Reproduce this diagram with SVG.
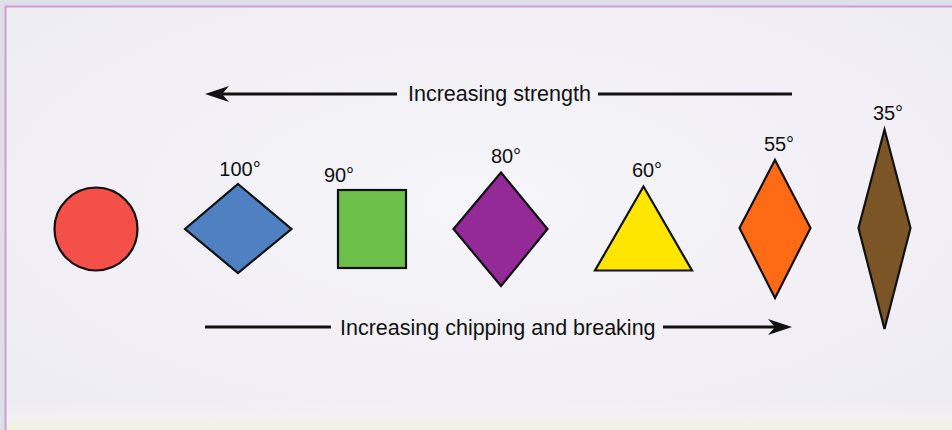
<svg xmlns="http://www.w3.org/2000/svg" width="952" height="430" viewBox="0 0 952 430">
  <style>
    .shape { stroke: #111; stroke-width: 2.2; stroke-linejoin: miter; }
    .lbl { font-family: "Liberation Sans", Arial, sans-serif; font-size: 20px; fill: #111; text-anchor: middle; }
    .cap { font-family: "Liberation Sans", Arial, sans-serif; font-size: 21.5px; fill: #111; }
    .line { stroke: #111; stroke-width: 3.2; fill: none; }
  </style>
  <defs>
    <radialGradient id="bg" cx="0.5" cy="0.45" r="0.7">
      <stop offset="0" stop-color="#f6f5f9"/>
      <stop offset="1" stop-color="#eeecf3"/>
    </radialGradient>
    <linearGradient id="bottom" x1="0" y1="0" x2="0" y2="1">
      <stop offset="0" stop-color="#f3f1f2" stop-opacity="0"/>
      <stop offset="0.6" stop-color="#f4f2ee" stop-opacity="0.6"/>
      <stop offset="1" stop-color="#eff0dc"/>
    </linearGradient>
  </defs>

  <g id="background">
    <rect x="0" y="0" width="952" height="430" fill="#dfdfe9"/>
    <rect x="5" y="6" width="952" height="430" fill="url(#bg)"/>
    <rect x="5" y="400" width="952" height="30" fill="url(#bottom)"/>
    <line x1="5" y1="6.5" x2="952" y2="6.5" stroke="#d49bd3" stroke-width="2"/>
    <line x1="5.5" y1="6" x2="5.5" y2="430" stroke="#d49bd3" stroke-width="2"/>
  </g>

  <g id="connectors">
    <g id="arrow-strength">
      <line class="line" x1="222" y1="94" x2="397" y2="94"/>
      <line class="line" x1="598" y1="94" x2="792" y2="94"/>
      <path d="M205,94 L229,86 L222,94 L229,102 Z" fill="#111"/>
      <text class="cap" x="408" y="100.7">Increasing strength</text>
    </g>
    <g id="arrow-chipping">
      <line class="line" x1="205" y1="327" x2="331" y2="327"/>
      <line class="line" x1="663" y1="327" x2="776" y2="327"/>
      <path d="M792,327 L768,319 L775,327 L768,335 Z" fill="#111"/>
      <text class="cap" x="340" y="334.5">Increasing chipping and breaking</text>
    </g>
  </g>

  <g id="circle">
    <circle class="shape" cx="96" cy="229" r="41.5" fill="#f44f49"/>
  </g>

  <g id="diamond-100">
    <polygon class="shape" points="238,184 291.5,229 238,273 185,229" fill="#4f80c2"/>
    <text class="lbl" x="240" y="176">100°</text>
  </g>

  <g id="square-90">
    <rect class="shape" x="338" y="190" width="68" height="78" fill="#6dc14b"/>
    <text class="lbl" x="339" y="182">90°</text>
  </g>

  <g id="diamond-80">
    <polygon class="shape" points="501,172.5 547.5,229 501,286 453.5,229" fill="#932a98"/>
    <text class="lbl" x="506" y="163">80°</text>
  </g>

  <g id="triangle-60">
    <polygon class="shape" points="643.5,186.5 692,270.5 595,270.5" fill="#ffe600"/>
    <text class="lbl" x="647" y="177">60°</text>
  </g>

  <g id="diamond-55">
    <polygon class="shape" points="775,160 810.5,228 775,298 739.5,228" fill="#ff6b14"/>
    <text class="lbl" x="779" y="151">55°</text>
  </g>

  <g id="diamond-35">
    <polygon class="shape" points="884.5,129.5 910.5,228 884.5,329 858.5,228" fill="#7c5526"/>
    <text class="lbl" x="888" y="120">35°</text>
  </g>
</svg>
